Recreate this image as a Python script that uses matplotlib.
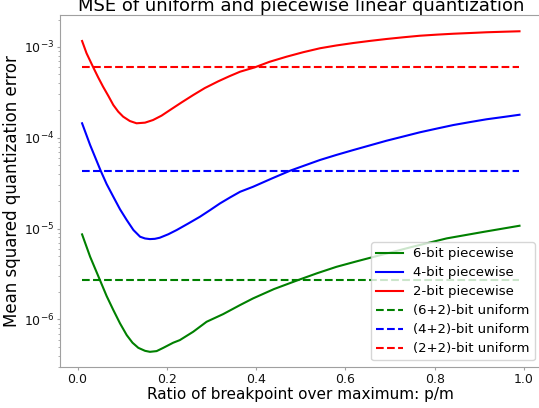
import numpy as np
import matplotlib
matplotlib.use("Agg")
import matplotlib.pyplot as plt

# Breakpoint ratios p/m and log10(MSE)
x_red = [0.01, 0.020, 0.035, 0.046, 0.057, 0.069, 0.080, 0.091, 0.102, 0.117, 0.132, 0.151,
         0.169, 0.188, 0.207, 0.233, 0.259, 0.285, 0.315, 0.340, 0.364, 0.397, 0.430,
         0.468, 0.505, 0.543, 0.580, 0.618, 0.655, 0.692, 0.730, 0.767, 0.805, 0.842,
         0.880, 0.916, 0.955, 0.99]
log_red = [-2.934, -3.069, -3.224, -3.334, -3.437, -3.540, -3.639, -3.712, -3.767, -3.815, -3.840,
           -3.833, -3.804, -3.756, -3.694, -3.610, -3.529, -3.452, -3.378, -3.322, -3.272, -3.224,
           -3.163, -3.107, -3.058, -3.014, -2.983, -2.956, -2.933, -2.912, -2.893, -2.876, -2.864,
           -2.854, -2.846, -2.838, -2.832, -2.827]

x_blue = [0.01, 0.028, 0.052, 0.065, 0.080, 0.095, 0.110, 0.125, 0.140, 0.151, 0.162, 0.173,
          0.184, 0.203, 0.222, 0.248, 0.274, 0.297, 0.319, 0.342, 0.364, 0.393, 0.435,
          0.476, 0.510, 0.543, 0.580, 0.618, 0.655, 0.692, 0.730, 0.767, 0.805, 0.842,
          0.880, 0.916, 0.955, 0.99]
log_blue = [-3.840, -4.079, -4.366, -4.509, -4.649, -4.787, -4.905, -5.015, -5.089, -5.108, -5.115,
            -5.112, -5.100, -5.062, -5.015, -4.943, -4.869, -4.795, -4.722, -4.655, -4.594, -4.539,
            -4.448, -4.362, -4.302, -4.244, -4.188, -4.134, -4.083, -4.032, -3.985, -3.939, -3.898,
            -3.859, -3.826, -3.796, -3.770, -3.746]

x_green = [0.01, 0.028, 0.050, 0.065, 0.080, 0.095, 0.110, 0.123, 0.136, 0.151, 0.162, 0.177,
           0.192, 0.214, 0.229, 0.259, 0.289, 0.326, 0.364, 0.393, 0.440, 0.494, 0.537,
           0.580, 0.625, 0.670, 0.750, 0.827, 0.910, 0.99]
log_green = [-5.063, -5.309, -5.566, -5.742, -5.896, -6.043, -6.172, -6.256, -6.312, -6.345, -6.356,
             -6.348, -6.312, -6.256, -6.227, -6.135, -6.025, -5.941, -5.841, -5.768, -5.665, -5.566,
             -5.490, -5.420, -5.360, -5.302, -5.200, -5.107, -5.035, -4.968]

uniform_62 = 2.72e-6
uniform_42 = 4.3e-5
uniform_22 = 5.97e-4

labels = ["6-bit piecewise", "4-bit piecewise", "2-bit piecewise",
          "(6+2)-bit uniform", "(4+2)-bit uniform", "(2+2)-bit uniform"]

fig = plt.figure(figsize=(5.39, 4.08), dpi=100)
ax = fig.add_axes([0.1113, 0.1005, 0.8935, 0.8627])

xg, yg = np.array(x_green), 10 ** np.array(log_green)
xb, yb = np.array(x_blue), 10 ** np.array(log_blue)
xr, yr = np.array(x_red), 10 ** np.array(log_red)

ax.plot(xg, yg, color="green", lw=1.5, label=labels[0])
ax.plot(xb, yb, color="blue", lw=1.5, label=labels[1])
ax.plot(xr, yr, color="red", lw=1.5, label=labels[2])
ax.plot([x_green[0], x_green[-1]], [uniform_62, uniform_62], "--", color="green", lw=1.5, label=labels[3])
ax.plot([x_blue[0], x_blue[-1]], [uniform_42, uniform_42], "--", color="blue", lw=1.5, label=labels[4])
ax.plot([x_red[0], x_red[-1]], [uniform_22, uniform_22], "--", color="red", lw=1.5, label=labels[5])

ax.set_yscale("log")
ax.set_ylim(10 ** -6.523, 10 ** -2.648)
ax.set_xlim(-0.0395, 1.0395)
ax.set_xticks([0.0, 0.2, 0.4, 0.6, 0.8, 1.0])

for s in ax.spines.values():
    s.set_color("#a0a0a0")
ax.tick_params(which="major", colors="#a0a0a0", labelcolor="#111111", labelsize=9,
               length=2, pad=2)
ax.tick_params(which="minor", colors="#a0a0a0", length=1.2)

ax.set_xlabel("Ratio of breakpoint over maximum: p/m", fontsize=11, labelpad=1)
ax.set_ylabel("Mean squared quantization error", fontsize=12, labelpad=2)
ax.set_title("MSE of uniform and piecewise linear quantization", fontsize=13, pad=2)
ax.legend(loc="lower right", fontsize=9.5, labelspacing=0.45)

fig.savefig("out.png", dpi=100)
